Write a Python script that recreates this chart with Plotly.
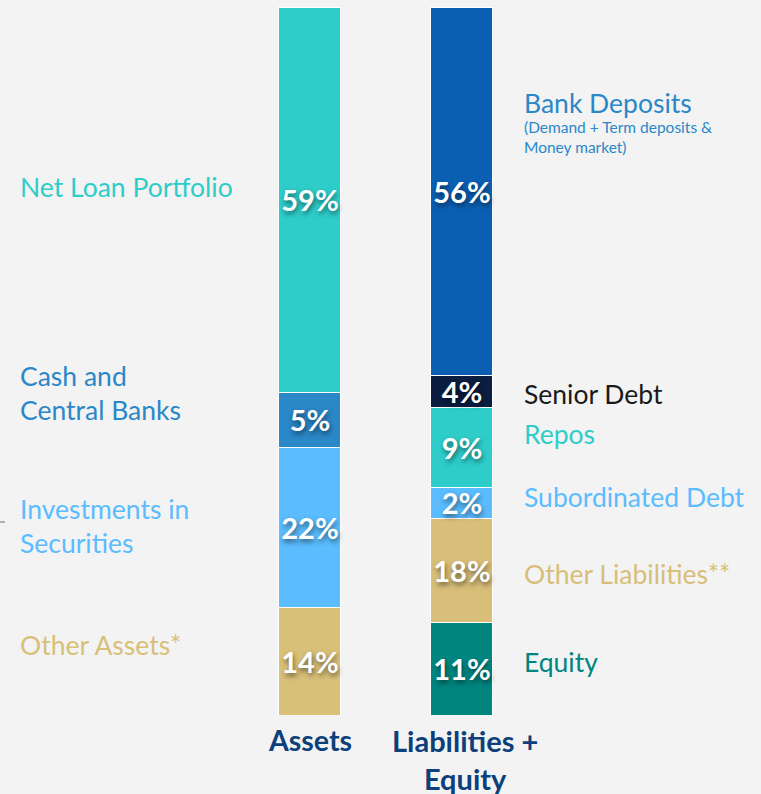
import plotly.graph_objects as go

# ---- data ----
columns = ["Assets", "Liabilities + Equity"]

assets_items = ["Net Loan Portfolio", "Cash and Central Banks", "Investments in Securities", "Other Assets*"]
assets_pct = [59, 5, 22, 14]                  # reported shares (labels)
assets_drawn = [54.3, 7.8, 22.6, 15.2]        # segment heights as drawn in the picture
assets_colors = ["#2ecdca", "#2a87c8", "#5bbcff", "#d8c078"]

liab_items = ["Bank Deposits", "Senior Debt", "Repos", "Subordinated Debt", "Other Liabilities**", "Equity"]
liab_pct = [56, 4, 9, 2, 18, 11]
liab_drawn = [52.0, 4.4, 11.3, 4.4, 14.7, 13.1]
liab_colors = ["#0b5fb3", "#0b1d40", "#2ecdca", "#5bbcff", "#d8be78", "#00857f"]

BG = "#f3f3f3"
FONT = "Lato, 'Open Sans', sans-serif"

fig = go.Figure()

def add_column(xpos, items, pct, drawn, colors):
    # plotly stacks the first trace at the bottom, so add from bottom to top
    for name, p, h, c in reversed(list(zip(items, pct, drawn, colors))):
        fig.add_trace(go.Bar(
            x=[xpos], y=[h], name=name, width=0.408,
            marker=dict(color=c, line=dict(color="#ffffff", width=1)),
            text=[f"<b>{p}%</b>"], textposition="inside", textangle=0,
            insidetextanchor="middle", constraintext="none",
            textfont=dict(family=FONT, size=29, color="white",
                          shadow="1px 3px 5px rgba(0,0,0,0.5)"),
            hoverinfo="skip", showlegend=False,
        ))

add_column(0, assets_items, assets_pct, assets_drawn, assets_colors)
add_column(1, liab_items, liab_pct, liab_drawn, liab_colors)

ann = []
def label(text, x, y, color, size=26.5, anchor="left", xref="paper"):
    ann.append(dict(text=text, x=x, y=y, xref=xref, yref="paper", showarrow=False,
                    xanchor=anchor, yanchor="middle", align=anchor,
                    font=dict(family=FONT, size=size, color=color)))

# left-side labels (assets)
lx = 18 / 761
label("Net Loan Portfolio", lx, 0.746, "#2ecdca")
label("Cash and<br>Central Banks", lx, 0.455, "#2a87c8")
label("Investments in<br>Securities", lx, 0.267, "#5bbcff")
label("Other Assets*", lx, 0.099, "#d8c078")

# right-side labels (liabilities + equity)
rx = 522 / 761
label("Bank Deposits", rx, 0.864, "#2a87c8")
label("(Demand + Term deposits &<br>Money market)", rx, 0.816, "#2a87c8", size=15.5)
label("Senior Debt", rx, 0.453, "#1a1a1a")
label("Repos", rx, 0.397, "#2ecdca")
label("Subordinated Debt", rx, 0.308, "#5bbcff")
label("Other Liabilities**", rx, 0.199, "#d8be78")
label("Equity", rx, 0.075, "#00857f")

# column titles
ann.append(dict(text="<b>Assets</b>", x=0, y=-0.009, xref="x", yref="paper",
                showarrow=False, xanchor="center", yanchor="top",
                font=dict(family=FONT, size=28.5, color="#0d3f7a")))
ann.append(dict(text="<b>Liabilities +<br>Equity</b>", x=1.02, y=-0.009, xref="x", yref="paper",
                showarrow=False, xanchor="center", yanchor="top", align="center",
                font=dict(family=FONT, size=29, color="#0d3f7a")))

fig.update_layout(
    width=761, height=794,
    margin=dict(l=0, r=0, t=7, b=79),
    paper_bgcolor=BG, plot_bgcolor=BG,
    barmode="stack",
    xaxis=dict(range=[-2.039, 2.967], visible=False, fixedrange=True),
    yaxis=dict(range=[0, 100], visible=False, fixedrange=True),
    annotations=ann,
    shapes=[dict(type="line", xref="paper", yref="paper", x0=0, x1=5 / 761,
                 y0=0.2726, y1=0.2726, line=dict(color="#9a9a9a", width=1.5))],
    font=dict(family=FONT),
)

fig.write_html("out.html", config={"displayModeBar": False},
               post_script="document.body.style.margin='0';document.body.style.background='#f3f3f3';")
